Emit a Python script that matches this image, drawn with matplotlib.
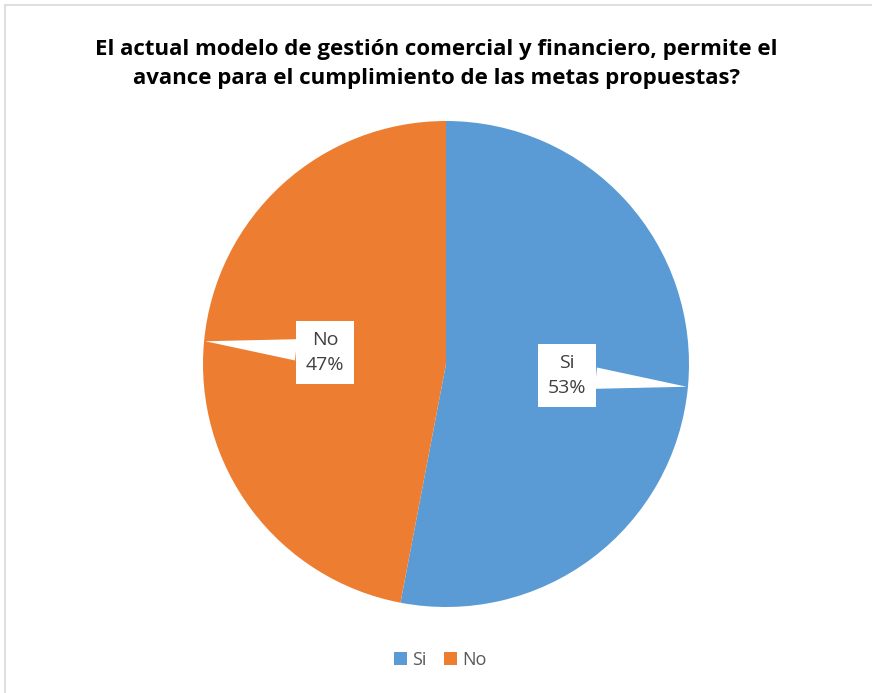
import matplotlib.pyplot as plt
import numpy as np
from matplotlib.patches import Rectangle

# Data
categories = ["Si", "No"]
shares = [53, 47]
colors = ["#5B9BD5", "#ED7D31"]
title = ("El actual modelo de gestión comercial y financiero, permite el\n"
         "avance para el cumplimiento de las metas propuestas?")

plt.rcParams['font.family'] = ['Open Sans', 'DejaVu Sans']

fig = plt.figure(figsize=(8.72, 6.93), dpi=100)
fig.patches.append(Rectangle((0.006, -0.01), 1.0, 1.003, transform=fig.transFigure,
                             fill=False, ec="#D9D9D9", lw=1.2))

# pie area: centre ~ (446, 364) px, radius ~243 px
ax = fig.add_axes([446 / 872 - 243 / 872, (693 - 364) / 693 - 243 / 693,
                   486 / 872, 486 / 693])
wedges, _ = ax.pie(shares, colors=colors, startangle=90, counterclock=False,
                   wedgeprops=dict(edgecolor="none", linewidth=0))
ax.set_aspect('equal')
ax.set_xlim(-1, 1)
ax.set_ylim(-1, 1)

# callout labels pointing to the outer edge of each slice
for w, cat, val in zip(wedges, categories, shares):
    ang = np.deg2rad((w.theta1 + w.theta2) / 2)
    edge = (np.cos(ang) * 0.995, np.sin(ang) * 0.995)
    lab = (np.cos(ang) * 0.5, np.sin(ang) * 0.5)
    ax.annotate(f"{cat}\n{val}%", xy=edge, xytext=lab, ha="center", va="center",
                fontsize=14, color="#404040", linespacing=1.5,
                bbox=dict(boxstyle="square,pad=0.5", fc="white", ec="none"),
                arrowprops=dict(arrowstyle="wedge,tail_width=1.1,shrink_factor=0.5",
                                fc="white", ec="none", shrinkA=0, shrinkB=0))

fig.text(0.5, (693 - 64) / 693, title, ha="center", va="center", fontsize=16,
         fontweight="bold", color="black", linespacing=1.55)

fig.legend(wedges, categories, loc="center", bbox_to_anchor=(0.505, (693 - 660) / 693),
           ncol=2, frameon=False, fontsize=13, handlelength=0.7, handleheight=0.7,
           handletextpad=0.3, columnspacing=1.0, labelcolor="#595959")

fig.savefig("out.png", dpi=100)
